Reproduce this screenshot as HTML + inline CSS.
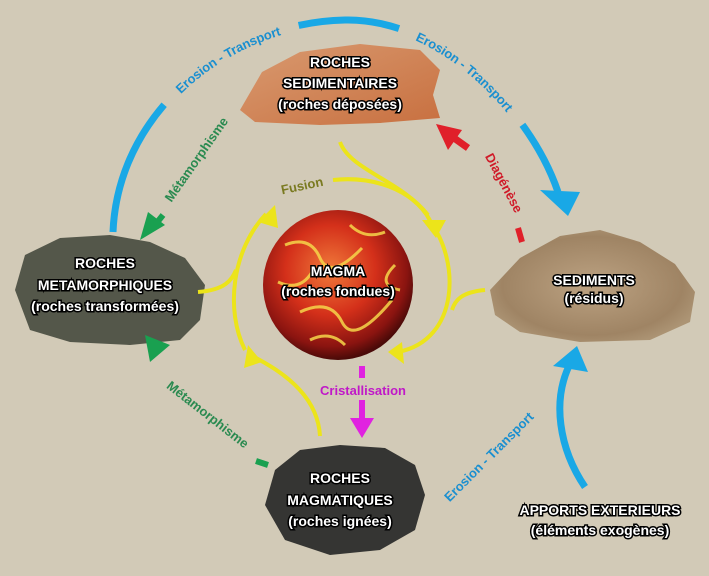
<!DOCTYPE html>
<html><head><meta charset="utf-8"><style>
html,body{margin:0;padding:0;background:#d2cab7;}
svg{display:block}
.t{font-family:"Liberation Sans",sans-serif;font-weight:bold;font-size:14px;fill:#fff;stroke:#000;stroke-width:3px;paint-order:stroke;text-anchor:middle}
.l{font-family:"Liberation Sans",sans-serif;font-weight:bold;font-size:13px;text-anchor:middle}
</style></head><body>
<svg width="709" height="576" viewBox="0 0 709 576" xmlns="http://www.w3.org/2000/svg">
<defs>
<radialGradient id="mg" cx="0.45" cy="0.4" r="0.6">
<stop offset="0" stop-color="#f07a3a"/><stop offset="0.5" stop-color="#d4301a"/><stop offset="0.85" stop-color="#8a1410"/><stop offset="1" stop-color="#4a0a08"/></radialGradient>
<radialGradient id="sd" cx="0.5" cy="0.5" r="0.55">
<stop offset="0" stop-color="#bca282"/><stop offset="0.8" stop-color="#9f8464"/><stop offset="1" stop-color="#ac9474"/></radialGradient>
<linearGradient id="sr" x1="0" y1="0" x2="1" y2="1"><stop offset="0" stop-color="#d99a70"/><stop offset="1" stop-color="#c87040"/></linearGradient>
<path id="arc" d="M113,232 C118,110 230,22 345,20 C440,18 530,110 558,192"/>
</defs>
<!-- rocks -->
<path d="M240,110 L262,72 L300,52 L360,44 L420,50 L440,70 L433,95 L440,118 L380,123 L320,125 L255,122 Z" fill="url(#sr)"/>
<path d="M15,290 L25,255 L60,238 L110,235 L150,242 L185,258 L205,285 L200,320 L180,340 L130,345 L70,342 L30,330 Z" fill="#54574a"/>
<path d="M490,290 L520,258 L560,236 L600,230 L640,242 L675,264 L695,292 L690,322 L650,340 L580,342 L520,332 L495,315 Z" fill="url(#sd)"/>
<path d="M265,505 L275,470 L300,450 L340,445 L385,448 L415,465 L425,495 L415,530 L380,550 L330,555 L285,540 Z" fill="#353533"/>
<circle cx="338" cy="285" r="75" fill="url(#mg)"/>
<path d="M285,245 Q310,235 320,258 T362,248 M300,312 Q330,298 342,322 T392,300 M278,282 Q300,292 312,272 M350,225 Q365,240 385,232 M395,265 Q375,285 400,290 M310,340 Q330,330 345,345" stroke="#f6d64a" stroke-width="3" fill="none" opacity="0.85"/>
<!-- blue top arc -->
<path d="M113,232 C118,110 230,22 345,20 C440,18 530,110 558,192" pathLength="100" stroke="#19a8e6" stroke-width="7" fill="none" stroke-dasharray="22 25 16 25 12"/>
<polygon points="540,190 580,192 568,216" fill="#19a8e6"/>
<text class="l" fill="#1a8fd0" font-size="15" dy="5"><textPath href="#arc" startOffset="34.5%">Erosion - Transport</textPath></text>
<text class="l" fill="#1a8fd0" font-size="15" dy="5"><textPath href="#arc" startOffset="75.5%">Erosion - Transport</textPath></text>
<!-- blue bottom -->
<path d="M585,487 C560,450 550,400 572,360" stroke="#19a8e6" stroke-width="7" fill="none"/>
<polygon points="553,366 588,372 577,346" fill="#19a8e6"/>
<text class="l" fill="#1a8fd0" transform="translate(492,460) rotate(-45)" font-size="14">Erosion - Transport</text>
<!-- yellow -->
<g stroke="#ece41a" stroke-width="4" fill="none">
<path d="M198,292 C225,290 232,280 236,270"/>
<path d="M245,350 C225,310 232,250 266,214"/>
<path d="M333,180 C380,175 420,195 432,225"/>
<path d="M340,142 C350,170 400,180 428,215"/>
<path d="M485,290 C462,292 455,300 452,310"/>
<path d="M430,222 C460,260 460,340 398,352"/>
<path d="M320,436 C318,400 290,375 252,356"/>
</g>
<g fill="#ece41a">
<polygon points="258,222 275,205 278,228"/>
<polygon points="422,220 446,220 436,238"/>
<polygon points="402,342 404,364 388,352"/>
<polygon points="248,345 244,368 262,362"/>
</g>
<text class="l" fill="#7a7a20" transform="translate(303,190) rotate(-12)" font-size="14">Fusion</text>
<!-- green -->
<polygon points="140,240 165,225 148,212" fill="#19a050"/>
<path d="M155,225 l8,-10" stroke="#19a050" stroke-width="6"/>
<text class="l" fill="#2a8a50" transform="translate(200,162) rotate(-55)" font-size="13">Métamorphisme</text>
<path d="M256,461 l12,4" stroke="#19a050" stroke-width="6"/>
<polygon points="145,335 170,345 150,362" fill="#19a050"/>
<text class="l" fill="#2a8a50" transform="translate(205,418) rotate(38)" font-size="13">Métamorphisme</text>
<!-- red -->
<path d="M518,228 l4,14" stroke="#e0202a" stroke-width="6"/>
<path d="M468,148 l-14,-10" stroke="#e0202a" stroke-width="7"/>
<polygon points="436,124 462,130 448,150" fill="#e0202a"/>
<text class="l" fill="#d01a28" transform="translate(500,185) rotate(62)" font-size="13">Diagénèse</text>
<!-- magenta -->
<path d="M362,366 v12 M362,400 v20" stroke="#e022e0" stroke-width="6"/>
<polygon points="350,418 374,418 362,438" fill="#e022e0"/>
<text class="l" fill="#c018c8" x="363" y="395" font-size="13">Cristallisation</text>
<!-- labels -->
<text class="t" x="340" y="67">ROCHES</text>
<text class="t" x="340" y="88">SEDIMENTAIRES</text>
<text class="t" x="340" y="109">(roches déposées)</text>
<text class="t" x="105" y="268">ROCHES</text>
<text class="t" x="105" y="290">METAMORPHIQUES</text>
<text class="t" x="105" y="311">(roches transformées)</text>
<text class="t" x="338" y="276">MAGMA</text>
<text class="t" x="338" y="296" font-size="13">(roches fondues)</text>
<text class="t" x="594" y="285">SEDIMENTS</text>
<text class="t" x="594" y="303" font-size="13">(résidus)</text>
<text class="t" x="340" y="483">ROCHES</text>
<text class="t" x="340" y="505">MAGMATIQUES</text>
<text class="t" x="340" y="526">(roches ignées)</text>
<text class="t" x="600" y="515">APPORTS EXTERIEURS</text>
<text class="t" x="600" y="535" font-size="13">(éléments exogènes)</text>
</svg>
</body></html>
